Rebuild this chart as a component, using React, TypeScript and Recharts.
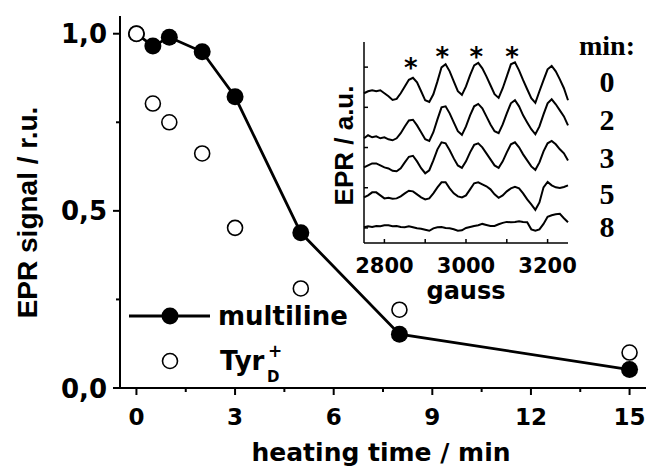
import React from "react";
import {
  ComposedChart,
  Label,
  Legend,
  Line,
  ReferenceDot,
  Scatter,
  ScatterChart,
  XAxis,
  YAxis,
} from "recharts";

// main panel: relative EPR signal vs. heating time
const HEAT_MIN = [0, 0.5, 1, 2, 3, 5, 8, 15];
const MULTILINE = [1.0, 0.965, 0.99, 0.949, 0.822, 0.438, 0.152, 0.052];
const TYR_D = [1.0, 0.803, 0.75, 0.662, 0.452, 0.281, 0.221, 0.1];

const X_TICKS = [0, 1.5, 3, 4.5, 6, 7.5, 9, 10.5, 12, 13.5, 15];
const X_LABELED = [0, 3, 6, 9, 12, 15];
const Y_TICKS = [0, 0.25, 0.5, 0.75, 1];
const Y_LABELED = [0, 0.5, 1];

// inset: multiline spectra after 0, 2, 3, 5, 8 min (stacked, a.u.)
const GAUSS = [
  2750, 2760, 2770, 2780, 2790, 2800, 2810, 2820, 2830, 2840,
  2850, 2860, 2870, 2880, 2890, 2900, 2910, 2920, 2930, 2940,
  2950, 2960, 2970, 2980, 2990, 3000, 3010, 3020, 3030, 3040,
  3050, 3060, 3070, 3080, 3090, 3100, 3110, 3120, 3130, 3140,
  3150, 3160, 3170, 3180, 3190, 3200, 3210, 3220, 3230, 3240,
  3250,
];
const SPEC_0 = [
  6.70, 6.80, 6.85, 6.80, 6.85, 6.70, 6.55, 6.37, 6.42, 6.70,
  7.04, 7.37, 7.47, 7.24, 6.80, 6.35, 6.27, 6.65, 7.29, 7.99,
  8.14, 7.79, 7.29, 6.80, 6.62, 7.04, 7.60, 8.09, 8.21, 7.94,
  7.54, 7.10, 6.65, 6.47, 6.95, 7.54, 8.14, 8.24, 7.84, 7.35,
  6.90, 6.45, 6.22, 6.80, 7.35, 7.89, 8.06, 7.79, 7.39, 6.95,
  6.35,
];
const SPEC_2 = [
  4.46, 4.61, 4.51, 4.56, 4.46, 4.51, 4.41, 4.36, 4.46, 4.71,
  5.05, 5.35, 5.38, 5.10, 4.76, 4.41, 4.33, 4.76, 5.40, 6.00,
  6.05, 5.70, 5.25, 4.81, 4.63, 5.05, 5.60, 6.05, 6.17, 5.95,
  5.55, 5.15, 4.81, 4.71, 5.15, 5.70, 6.20, 6.35, 6.05, 5.60,
  5.25, 4.91, 4.66, 5.05, 5.65, 6.20, 6.40, 6.15, 5.85, 5.55,
  5.10,
];
const SPEC_3 = [
  3.01, 3.11, 3.21, 3.21, 3.11, 3.01, 2.96, 2.84, 2.82, 2.97,
  3.26, 3.54, 3.59, 3.31, 2.97, 2.72, 2.87, 3.36, 3.91, 4.26,
  4.21, 3.86, 3.46, 3.11, 2.99, 3.31, 3.76, 4.13, 4.21, 4.01,
  3.71, 3.41, 3.11, 2.99, 3.31, 3.76, 4.16, 4.26, 4.01, 3.66,
  3.36, 3.06, 2.89, 3.26, 3.81, 4.21, 4.33, 4.16, 3.91, 3.71,
  3.36,
];
const SPEC_5 = [
  1.52, 1.62, 1.77, 1.77, 1.62, 1.47, 1.50, 1.45, 1.47, 1.57,
  1.72, 1.85, 1.82, 1.67, 1.52, 1.42, 1.47, 1.72, 2.02, 2.27,
  2.27, 1.97, 1.72, 1.57, 1.52, 1.62, 1.92, 2.22, 2.27, 2.17,
  2.07, 1.92, 1.67, 1.50, 1.62, 1.82, 1.97, 2.04, 1.97, 1.72,
  1.42, 1.17, 0.90, 1.27, 2.02, 2.29, 2.12, 2.02, 1.99, 2.04,
  2.12,
];
const SPEC_8 = [
  0.03, 0.08, 0.05, 0.10, 0.08, 0.13, 0.13, 0.08, 0.10, 0.05,
  0.03, 0.08, 0.03, -0.02, -0.04, -0.09, -0.14, -0.02, 0.03, 0.05,
  0.00, -0.02, -0.07, -0.14, -0.12, 0.00, 0.05, 0.10, 0.13, 0.20,
  0.15, 0.10, 0.10, 0.18, 0.25, 0.30, 0.28, 0.30, 0.33, 0.30,
  0.28, -0.07, -0.14, -0.07, 0.20, 0.55, 0.63, 0.68, 0.70, 0.48,
  0.28,
];
const SPEC_MINUTES = ["0", "2", "3", "5", "8"];
const SPECTRA = [SPEC_0, SPEC_2, SPEC_3, SPEC_5, SPEC_8];

// asterisks over the hyperfine peaks
const STAR_GAUSS = [2865, 2942, 3025, 3113];
const STAR_LEVEL = [8.25, 8.8, 8.8, 8.8];

const INSET_X_TICKS = [2800, 2900, 3000, 3100, 3200];
const INSET_X_LABELED = [2800, 3000, 3200];
const INSET_Y_TICKS = [0, 2, 4, 6, 8];

const SANS = "'DejaVu Sans', sans-serif";
const ARIAL = "'Liberation Sans', Arial, sans-serif";
const SERIF = "'Liberation Serif', 'Times New Roman', serif";
const AXIS = { stroke: "#000", strokeWidth: 2 };
const INSET_AXIS = { stroke: "#000", strokeWidth: 1.5 };

const multiData = HEAT_MIN.map((t, i) => ({ t, v: MULTILINE[i] }));
const tyrData = HEAT_MIN.map((t, i) => ({ t, v: TYR_D[i] }));
const spectraRows = GAUSS.map((g, i) => {
  const row: Record<string, number> = { g };
  SPECTRA.forEach((s, k) => (row["m" + SPEC_MINUTES[k]] = s[i]));
  return row;
});

function MainXTick({ x, y, payload }: any) {
  const major = X_LABELED.includes(payload.value);
  return (
    <g>
      <line x1={x} x2={x} y1={y} y2={y + (major ? 7 : 4)} stroke="#000" strokeWidth={2} />
      {major && (
        <text x={x} y={y + 37} textAnchor="middle" fontFamily={SANS} fontWeight={700} fontSize={23}>
          {payload.value}
        </text>
      )}
    </g>
  );
}

function MainYTick({ x, y, payload }: any) {
  const major = Y_LABELED.includes(payload.value);
  return (
    <g>
      <line x1={x - (major ? 7 : 4)} x2={x} y1={y} y2={y} stroke="#000" strokeWidth={2} />
      {major && (
        <text x={x - 13} y={y + 9.5} textAnchor="end" fontFamily={SANS} fontWeight={700} fontSize={26}>
          {payload.value.toFixed(1).replace(".", ",")}
        </text>
      )}
    </g>
  );
}

function MainLegend({ payload }: any) {
  const names = (payload || []).map((e: any) => e.value);
  return (
    <svg width={250} height={100}>
      {names.includes("multiline") && (
        <g>
          <line x1={9} x2={90} y1={21} y2={21} stroke="#000" strokeWidth={2.8} />
          <circle cx={50} cy={21} r={8.5} fill="#000" />
          <text x={98} y={30} fontFamily={SANS} fontWeight={700} fontSize={26}>
            multiline
          </text>
        </g>
      )}
      {names.includes("TyrD+") && (
        <g fontFamily={SANS} fontWeight={700}>
          <circle cx={50} cy={66} r={7.5} fill="#fff" stroke="#000" strokeWidth={1.6} />
          <text x={100} y={75} fontSize={26}>Tyr</text>
          <text x={147} y={87} fontSize={15}>D</text>
          <text x={148} y={62} fontSize={17}>+</text>
        </g>
      )}
    </svg>
  );
}

function InsetXTick({ x, y, payload, top }: any) {
  const major = INSET_X_LABELED.includes(payload.value);
  return (
    <g>
      <line x1={x} x2={x} y1={y} y2={top ? y + 4 : y - 4} stroke="#000" strokeWidth={1.5} />
      {!top && major && (
        <text x={x} y={y + 30} textAnchor="middle" fontFamily={SANS} fontWeight={700} fontSize={21}>
          {payload.value}
        </text>
      )}
    </g>
  );
}

function InsetYTick({ x, y, right }: any) {
  return <line x1={x} x2={right ? x - 4 : x + 4} y1={y} y2={y} stroke="#000" strokeWidth={1.5} />;
}

const DIGIT_BASELINES = [62, 100, 138, 174, 207];

function MinutesLegend({ payload }: any) {
  return (
    <svg width={78} height={215}>
      <text x={37} y={25} textAnchor="middle" fontFamily={SERIF} fontWeight={700} fontSize={28}>
        min:
      </text>
      {(payload || []).map((e: any, i: number) => (
        <text
          key={e.value}
          x={37}
          y={DIGIT_BASELINES[i]}
          textAnchor="middle"
          fontFamily={SERIF}
          fontWeight={700}
          fontSize={30}
        >
          {e.value}
        </text>
      ))}
    </svg>
  );
}

function Inset() {
  return (
    <ComposedChart
      width={328}
      height={280}
      data={spectraRows}
      margin={{ top: 12, right: 80, bottom: 0, left: 0 }}
    >
      <XAxis
        type="number"
        dataKey="g"
        domain={[2750, 3250]}
        ticks={INSET_X_TICKS}
        interval={0}
        height={67}
        tickSize={0}
        tickMargin={0}
        tickLine={false}
        axisLine={INSET_AXIS}
        tick={(p: any) => <InsetXTick {...p} />}
      >
        <Label
          content={({ viewBox }: any) => (
            <text
              x={viewBox.x + viewBox.width / 2}
              y={viewBox.y + 56}
              textAnchor="middle"
              fontFamily={SANS}
              fontWeight={700}
              fontSize={24}
            >
              gauss
            </text>
          )}
        />
      </XAxis>
      <XAxis
        xAxisId="top"
        orientation="top"
        type="number"
        domain={[2750, 3250]}
        ticks={INSET_X_TICKS}
        interval={0}
        height={0}
        tickSize={0}
        tickMargin={0}
        tickLine={false}
        axisLine={INSET_AXIS}
        tick={(p: any) => <InsetXTick {...p} top />}
      />
      <YAxis
        type="number"
        domain={[-0.75, 9.25]}
        ticks={INSET_Y_TICKS}
        interval={0}
        width={44}
        tickSize={0}
        tickMargin={0}
        tickLine={false}
        axisLine={INSET_AXIS}
        tick={(p: any) => <InsetYTick {...p} />}
      >
        <Label
          content={({ viewBox }: any) => {
            const bx = viewBox.x + viewBox.width - 11;
            const cy = viewBox.y + viewBox.height / 2 + 3;
            return (
              <text
                x={bx}
                y={cy}
                transform={`rotate(-90, ${bx}, ${cy})`}
                textAnchor="middle"
                fontFamily={ARIAL}
                fontWeight={700}
                fontSize={26}
              >
                EPR / a.u.
              </text>
            );
          }}
        />
      </YAxis>
      <YAxis
        yAxisId="right"
        orientation="right"
        type="number"
        domain={[-0.75, 9.25]}
        ticks={INSET_Y_TICKS}
        interval={0}
        width={0}
        tickSize={0}
        tickMargin={0}
        tickLine={false}
        axisLine={INSET_AXIS}
        tick={(p: any) => <InsetYTick {...p} right />}
      />
      <Legend
        layout="horizontal"
        verticalAlign="middle"
        align="center"
        wrapperStyle={{ left: 250, top: 0, width: 78, height: 215 }}
        content={(p: any) => <MinutesLegend {...p} />}
      />
      {SPEC_MINUTES.map((m) => (
        <Line
          key={m}
          name={m}
          dataKey={"m" + m}
          type="linear"
          stroke="#000"
          strokeWidth={2}
          dot={false}
          isAnimationActive={false}
        />
      ))}
      {STAR_GAUSS.map((g, i) => (
        <ReferenceDot
          key={g}
          x={g}
          y={STAR_LEVEL[i]}
          r={0}
          shape={(p: any) => (
            <text
              x={p.cx}
              y={p.cy + 15}
              textAnchor="middle"
              fontFamily={SANS}
              fontWeight={700}
              fontSize={26}
            >
              *
            </text>
          )}
        />
      ))}
    </ComposedChart>
  );
}

export default function App() {
  return (
    <div style={{ position: "absolute", left: 0, top: 0, width: 648, height: 468, background: "#fff" }}>
      <ScatterChart width={648} height={468} margin={{ top: 16, right: 2, bottom: 0, left: 0 }}>
        <XAxis
          type="number"
          dataKey="t"
          domain={[-0.5, 15.5]}
          ticks={X_TICKS}
          interval={0}
          height={80}
          tickSize={0}
          tickMargin={0}
          tickLine={false}
          axisLine={AXIS}
          tick={(p: any) => <MainXTick {...p} />}
        >
          <Label
            content={({ viewBox }: any) => (
              <text
                x={viewBox.x + viewBox.width / 2 - 2}
                y={viewBox.y + 73}
                textAnchor="middle"
                fontFamily={SANS}
                fontWeight={700}
                fontSize={25}
              >
                heating time / min
              </text>
            )}
          />
        </XAxis>
        <XAxis
          xAxisId="top"
          orientation="top"
          type="number"
          domain={[-0.5, 15.5]}
          height={0}
          tick={false}
          tickLine={false}
          axisLine={AXIS}
        />
        <YAxis
          type="number"
          dataKey="v"
          domain={[0, 1.05]}
          ticks={Y_TICKS}
          interval={0}
          width={120}
          tickSize={0}
          tickMargin={0}
          tickLine={false}
          axisLine={AXIS}
          tick={(p: any) => <MainYTick {...p} />}
        >
          <Label
            content={({ viewBox }: any) => {
              const bx = 37;
              const cy = viewBox.y + viewBox.height / 2 + 10.5;
              return (
                <text
                  x={bx}
                  y={cy}
                  transform={`rotate(-90, ${bx}, ${cy})`}
                  textAnchor="middle"
                  fontFamily={ARIAL}
                  fontWeight={700}
                  fontSize={28}
                >
                  EPR signal / r.u.
                </text>
              );
            }}
          />
        </YAxis>
        <YAxis
          yAxisId="right"
          orientation="right"
          type="number"
          domain={[0, 1.05]}
          width={0}
          tick={false}
          tickLine={false}
          axisLine={AXIS}
        />
        <Legend
          layout="horizontal"
          verticalAlign="middle"
          align="center"
          wrapperStyle={{ left: 120, top: 295, width: 250, height: 100 }}
          content={(p: any) => <MainLegend {...p} />}
        />
        <Scatter
          name="multiline"
          data={multiData}
          line={{ stroke: "#000", strokeWidth: 2.8 }}
          shape={(p: any) => <circle cx={p.cx} cy={p.cy} r={8.5} fill="#000" />}
          isAnimationActive={false}
        />
        <Scatter
          name="TyrD+"
          data={tyrData}
          shape={(p: any) => (
            <circle cx={p.cx} cy={p.cy} r={7.5} fill="#fff" stroke="#000" strokeWidth={1.6} />
          )}
          isAnimationActive={false}
        />
      </ScatterChart>
      <div style={{ position: "absolute", left: 320, top: 30 }}>
        <Inset />
      </div>
    </div>
  );
}
